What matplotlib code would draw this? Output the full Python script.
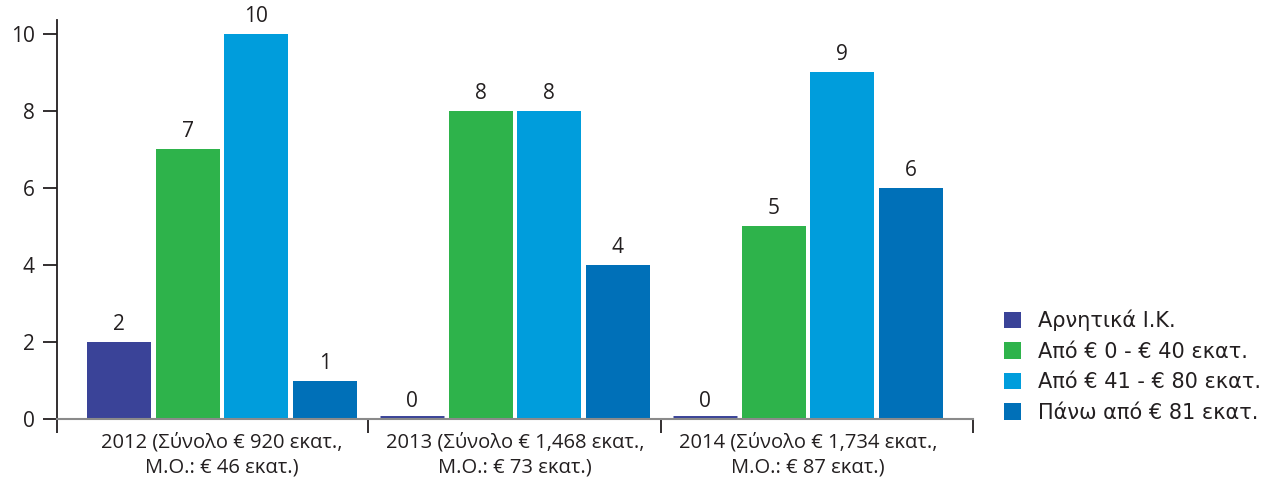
import numpy as np
import matplotlib.pyplot as plt

plt.rcParams['font.family'] = ['Open Sans', 'DejaVu Sans']

groups = ['2012 (Σύνολο € 920 εκατ.,\nΜ.Ο.: € 46 εκατ.)',
          '2013 (Σύνολο € 1,468 εκατ.,\nΜ.Ο.: € 73 εκατ.)',
          '2014 (Σύνολο € 1,734 εκατ.,\nΜ.Ο.: € 87 εκατ.)']
series = ['Αρνητικά Ι.Κ.', 'Από € 0 - € 40 εκατ.',
          'Από € 41 - € 80 εκατ.', 'Πάνω από € 81 εκατ.']
negative = [2, 0, 0]
low = [7, 8, 5]
mid = [10, 8, 9]
high = [1, 4, 6]
colors = ['#3a4398', '#2eb34b', '#009ddc', '#0070b8']

values = [negative, low, mid, high]

fig = plt.figure(figsize=(12.73, 4.91), dpi=100)
ax = fig.add_axes([0.0448, 0.1466, 0.7195, 0.8127])

x = np.arange(len(groups))
pitch = 0.234
width = 0.218
for i, (name, vals, c) in enumerate(zip(series, values, colors)):
    pos = x + (i - 1.5) * pitch
    bars = ax.bar(pos, vals, width, color=c, label=name, zorder=2)
    for b, v in zip(bars, vals):
        if v == 0:
            # keep empty categories visible as a thin stub
            b.set_edgecolor(c)
            b.set_linewidth(5)
        ax.annotate(str(v), (b.get_x() + b.get_width() / 2, v),
                    xytext=(0, 5), textcoords='offset points',
                    ha='center', va='bottom', fontsize=15, color='#231f20')

ax.set_xlim(-0.563, 2.563)
ax.set_ylim(0, 10.36)
ax.set_yticks(range(0, 11, 2))
ax.tick_params(axis='y', length=10, width=1.3, color='#231f20',
               labelsize=15, labelcolor='#231f20', pad=6)
ax.set_xticks(x)
ax.set_xticklabels(groups, fontsize=14.5, color='#231f20', linespacing=1.3)
ax.tick_params(axis='x', length=0, pad=10)
ax.set_xticks([-0.563, 0.5, 1.5, 2.563], minor=True)
ax.tick_params(axis='x', which='minor', length=10, width=1.3, color='#231f20')

for s in ['top', 'right']:
    ax.spines[s].set_visible(False)
ax.spines['left'].set_color('#231f20')
ax.spines['left'].set_linewidth(1.3)
ax.spines['bottom'].set_color('#8a8a8a')
ax.spines['bottom'].set_linewidth(1.5)
ax.spines['bottom'].set_zorder(3)

fig.legend(loc='upper left', bbox_to_anchor=(0.774, 0.407), frameon=False,
           prop={'family': 'DejaVu Sans', 'size': 15},
           handlelength=0.82, handleheight=0.82,
           handletextpad=0.82, labelspacing=0.5, labelcolor='#231f20')

fig.savefig('out.png', dpi=100)
